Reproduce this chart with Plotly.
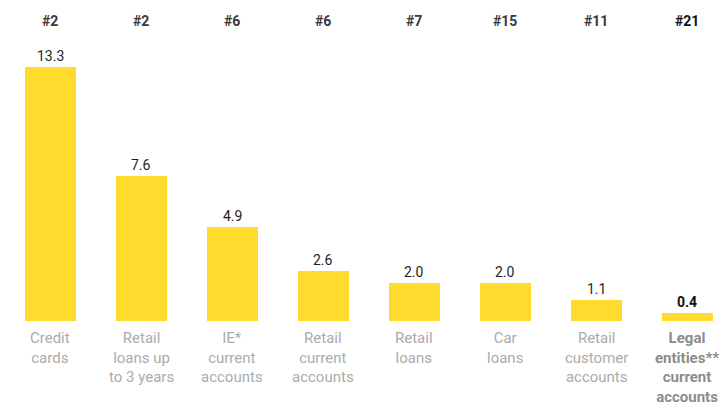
import plotly.graph_objects as go

# Chart data
categories = [
    "Credit<br>cards",
    "Retail<br>loans up<br>to 3 years",
    "IE*<br>current<br>accounts",
    "Retail<br>current<br>accounts",
    "Retail<br>loans",
    "Car<br>loans",
    "Retail<br>customer<br>accounts",
    "Legal<br>entities**<br>current<br>accounts",
]
values = [13.3, 7.6, 4.9, 2.6, 2.0, 2.0, 1.1, 0.4]
ranks = ["#2", "#2", "#6", "#6", "#7", "#15", "#11", "#21"]

YELLOW = "#FEDB2C"
FONT = "Roboto"

x = list(range(len(values)))

fig = go.Figure(
    go.Bar(
        x=x,
        y=values,
        width=0.56,
        marker=dict(color=YELLOW, line=dict(width=0)),
        hoverinfo="skip",
    )
)

annotations = []
last = len(values) - 1
for i, (v, r, c) in enumerate(zip(values, ranks, categories)):
    hl = i == last
    # value above each bar
    annotations.append(dict(
        x=i, y=v, xref="x", yref="y", yanchor="bottom", yshift=1,
        text=f"<b>{v:.1f}</b>" if hl else f"{v:.1f}",
        showarrow=False,
        font=dict(family=FONT, size=14,
                  color="#111111" if hl else "#1f1f1f"),
    ))
    # market position on top
    annotations.append(dict(
        x=i, y=1, xref="x", yref="paper", yanchor="middle", yshift=-21,
        text=f"<b>{r}</b>",
        showarrow=False,
        font=dict(family=FONT, size=14, color="#111111" if hl else "#3a3a3a"),
    ))
    # category label below axis
    annotations.append(dict(
        x=i, y=0, xref="x", yref="paper", yanchor="top", yshift=-6,
        text=f"<b>{c}</b>" if hl else c,
        showarrow=False, align="center",
        font=dict(family=FONT, size=15, color="#8c8c8c" if hl else "#ababab"),
    ))

fig.update_layout(
    width=728, height=405,
    margin=dict(l=0, r=0, t=0, b=84),
    paper_bgcolor="white", plot_bgcolor="white",
    showlegend=False,
    bargap=0,
    xaxis=dict(range=[-0.55, 7.45], visible=False, fixedrange=True),
    yaxis=dict(range=[0, 16.8], visible=False, fixedrange=True),
    annotations=annotations,
)

fig.write_html("out.html")
